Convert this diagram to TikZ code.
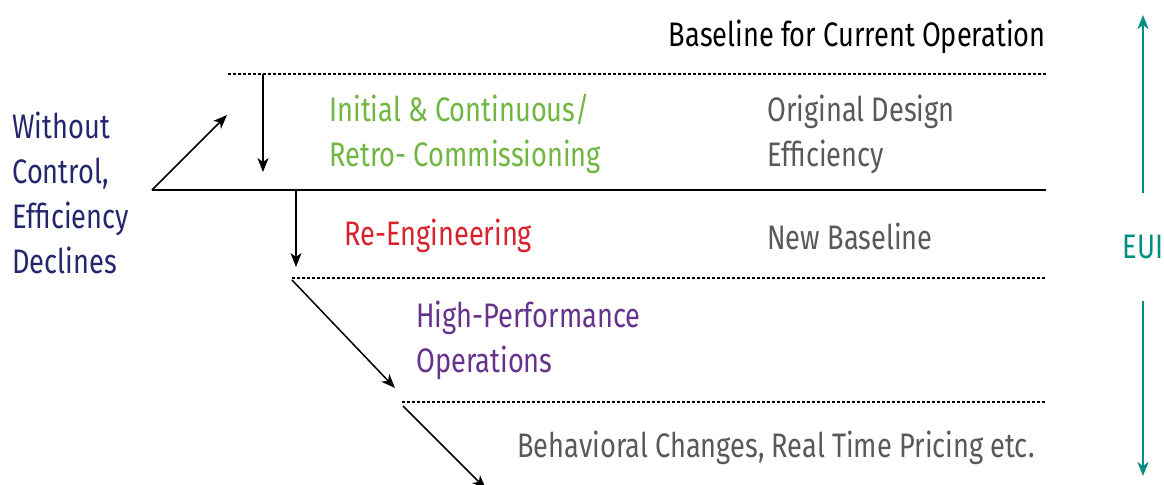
\documentclass[tikz,border=0pt]{standalone}
\usepackage{fontspec}
\usetikzlibrary{arrows.meta}
\setmainfont[FakeStretch=0.8]{Fira Sans}
\definecolor{vert}{RGB}{112,182,64}
\definecolor{rouge}{RGB}{214,35,45}
\definecolor{violet}{RGB}{102,51,140}
\definecolor{marine}{RGB}{36,38,110}
\definecolor{grisfonce}{RGB}{89,89,89}
\definecolor{sarcelle}{RGB}{0,143,130}
\begin{document}
\begin{tikzpicture}[x=0.5pt,y=-0.5pt, % une unite = un pixel
  >={Stealth[length=7pt,width=5.5pt,inset=2pt]},
  texte/.style={anchor=west,align=left,inner sep=0pt,font=\fontsize{17}{22.5}\selectfont},
  pointille/.style={color=black,line width=0.6pt,dash pattern=on 1.5pt off 1pt},
  fleche/.style={color=black,line width=0.75pt,->}]
\useasboundingbox (0,0) rectangle (1164,484); % le cadre
% les niveaux
\coordinate (n1g) at (228,74);  \coordinate (n1d) at (1046,74);
\coordinate (n0g) at (152,190); \coordinate (n0d) at (1046,190);
\coordinate (n2g) at (292,278); \coordinate (n2d) at (1046,278);
\coordinate (n3g) at (402,402); \coordinate (n3d) at (1046,402);
\draw[pointille] (n1g)--(n1d);
\draw[color=black,line width=0.8pt] (n0g)--(n0d);
\draw[pointille] (n2g)--(n2d);
\draw[pointille] (n3g)--(n3d);
% les fleches
\coordinate (a1) at (227,115);
\coordinate (b0) at (263,74);  \coordinate (b1) at (263,172);
\coordinate (c0) at (296,190); \coordinate (c1) at (296,267);
\coordinate (d0) at (292,280); \coordinate (d1) at (395,388);
\coordinate (e0) at (403,406); \coordinate (e1) at (486,489);
\draw[fleche] (n0g)--(a1);
\draw[fleche] (b0)--(b1);
\draw[fleche] (c0)--(c1);
\draw[fleche] (d0)--(d1);
\draw[fleche] (e0)--(e1);
% les textes
\node[texte,anchor=east] (base) at (1046,37) {Baseline for Current Operation};
\node[texte,text=marine] (sans) at (12,193) {Without\\Control,\\Efficiency\\Declines};
\node[texte,text=vert] (cx) at (329,134) {Initial \& Continuous/\\Retro- Commissioning};
\node[texte,text=grisfonce] (orig) at (767,134) {Original Design\\Efficiency};
\node[texte,text=rouge] (reing) at (344,236) {Re-Engineering};
\node[texte,text=grisfonce] (nouv) at (767,236) {New Baseline};
\node[texte,text=violet] (hp) at (416,340) {High-Performance\\Operations};
\node[texte,text=grisfonce] (comp) at (517,448) {Behavioral Changes, Real Time Pricing etc.};
% l'axe EUI
\node[texte,anchor=center,text=sarcelle,minimum height=53.5pt] (eui) at (1143,247) {EUI};
\coordinate (euih) at (1143,15);
\coordinate (euib) at (1143,476);
\draw[color=sarcelle,line width=0.75pt,->] (eui.north)--(euih);
\draw[color=sarcelle,line width=0.75pt,->] (eui.south)--(euib);
\end{tikzpicture}
\end{document}
